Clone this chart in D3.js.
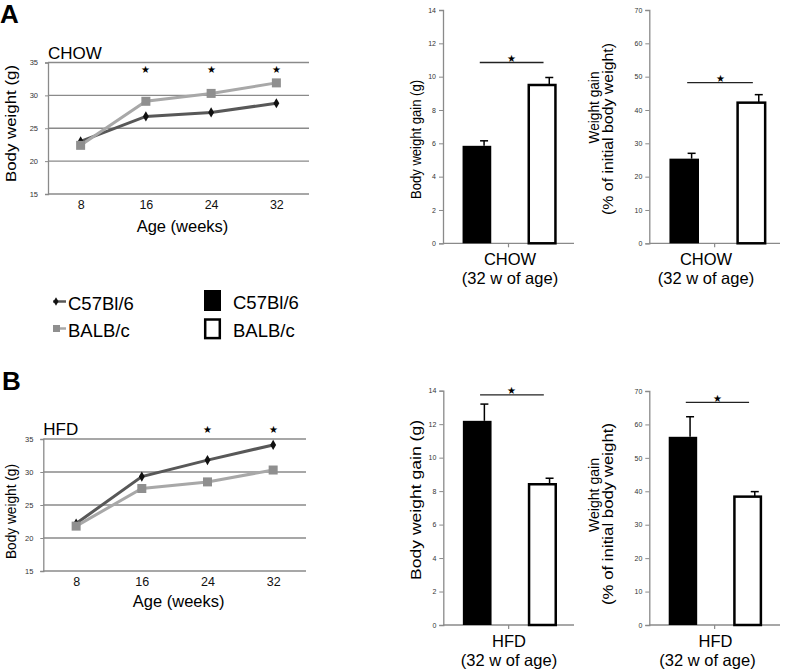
<!DOCTYPE html>
<html><head><meta charset="utf-8">
<script src="https://cdn.jsdelivr.net/npm/d3@7"></script>
<style>body{margin:0;background:#fff} svg{display:block} text{font-family:"Liberation Sans",Arial,sans-serif}</style>
</head><body><svg id="c" width="785" height="670"></svg>
<script>
// ---------- data ----------
const weeks = ["8", "16", "24", "32"];
const chowC57 = [23.0, 26.8, 27.4, 28.8];
const chowBALB = [22.4, 29.1, 30.3, 31.9];
const hfdC57 = [22.2, 29.3, 31.8, 34.1];
const hfdBALB = [21.8, 27.5, 28.5, 30.3];
const chowSigWeeks = ["16", "24", "32"];
const hfdSigWeeks = ["24", "32"];
const lineYTicks = [15, 20, 25, 30, 35];

const strains = ["C57Bl/6", "BALB/c"];
const gainChow = [5.85, 9.5];
const gainChowErr = [0.3, 0.45];
const pctChow = [25.4, 42.2];
const pctChowErr = [1.6, 2.4];
const gainHfd = [12.2, 8.41];
const gainHfdErr = [1.0, 0.36];
const pctHfd = [56.3, 38.4];
const pctHfdErr = [6.0, 1.5];
const gainTicks = [0, 2, 4, 6, 8, 10, 12, 14];
const pctTicks = [0, 10, 20, 30, 40, 50, 60, 70];
const sigGainChow = 10.85, sigPctChow = 48.2, sigGainHfd = 13.75, sigPctHfd = 66.6;

const svg = d3.select("#c");
const AX = "#8a8a8a";

// panel letters
svg.append("text").attr("x", 0).attr("y", 23).attr("font-size", 26).attr("font-weight", "bold").text("A");
svg.append("text").attr("x", 2).attr("y", 390).attr("font-size", 26).attr("font-weight", "bold").text("B");

function lineChart(o) {
  const g = svg.append("g");
  const x = d3.scalePoint().domain(weeks).range([o.x0, o.x1]).padding(0.5);
  const y = d3.scaleLinear().domain([15, 35]).range([o.yBot, o.yTop]);
  g.selectAll("line.grid").data(lineYTicks).join("line")
    .attr("x1", o.x0).attr("x2", o.x1).attr("y1", d => y(d)).attr("y2", d => y(d))
    .attr("stroke", AX).attr("stroke-width", 1.3);
  const ya = g.append("g").attr("transform", `translate(${o.x0},0)`)
    .call(d3.axisLeft(y).tickValues(lineYTicks).tickSize(3).tickPadding(7));
  ya.select(".domain").attr("stroke", AX).attr("stroke-width", 1.3);
  ya.selectAll(".tick line").attr("stroke", AX);
  ya.selectAll("text").attr("font-size", 7.5).attr("fill", "#333").attr("font-family", "Liberation Sans, Arial");
  const xa = g.append("g").attr("transform", `translate(0,${o.yBot})`)
    .call(d3.axisBottom(x).tickSize(0).tickPadding(6.5));
  xa.select(".domain").remove();
  xa.selectAll("text").attr("font-size", 12.5).attr("fill", "#111").attr("font-family", "Liberation Sans, Arial");
  g.append("text").attr("x", (o.x0 + o.x1) / 2 + 4).attr("y", o.yBot + o.ageOff).attr("text-anchor", "middle")
    .attr("font-size", 16.5).text("Age (weeks)");
  g.append("text").attr("transform", `translate(15.5,${o.ylabY}) rotate(-90)`).attr("text-anchor", "middle")
    .attr("font-size", 15.5).attr("textLength", o.ylabLen).attr("lengthAdjust", "spacingAndGlyphs").text("Body weight (g)");
  g.append("text").attr("x", o.x0).attr("y", o.titleY).attr("font-size", 17).text(o.title);
  const line = d3.line().x((d, i) => x(weeks[i])).y(d => y(d));
  g.append("path").datum(o.c57).attr("d", line).attr("fill", "none").attr("stroke", "#585858").attr("stroke-width", 3);
  g.selectAll("path.dm").data(o.c57).join("path")
    .attr("transform", (d, i) => `translate(${x(weeks[i])},${y(d)})`)
    .attr("d", d3.symbol(d3.symbolDiamond, 30)).attr("fill", "#111");
  g.append("path").datum(o.balb).attr("d", line).attr("fill", "none").attr("stroke", "#a8a8a8").attr("stroke-width", 3);
  g.selectAll("rect.sq").data(o.balb).join("rect")
    .attr("x", (d, i) => x(weeks[i]) - 4.5).attr("y", d => y(d) - 4.5)
    .attr("width", 9).attr("height", 9).attr("fill", "#8f8f8f");
  g.selectAll("text.star").data(o.sig).join("text")
    .attr("x", d => x(d)).attr("y", o.starY).attr("text-anchor", "middle")
    .attr("font-family", "DejaVu Sans").attr("font-size", 10).text("\u2605");
}

lineChart({x0: 48, x1: 309, yTop: 62.5, yBot: 194, c57: chowC57, balb: chowBALB, sig: chowSigWeeks,
  title: "CHOW", titleY: 58.5, ylabY: 123.5, ylabLen: 117, starY: 73, ageOff: 38});
lineChart({x0: 43.3, x1: 306, yTop: 439, yBot: 571, c57: hfdC57, balb: hfdBALB, sig: hfdSigWeeks,
  title: "HFD", titleY: 435, ylabY: 511.5, ylabLen: 95, starY: 433, ageOff: 36});

function barChart(o) {
  const g = svg.append("g");
  const x = d3.scaleBand().domain(strains).range([o.x0, o.x0 + o.w]).paddingInner(0.56).paddingOuter(0.3);
  const y = d3.scaleLinear().domain([0, o.max]).range([o.yBot, o.yTop]);
  const ya = g.append("g").attr("transform", `translate(${o.x0},0)`)
    .call(d3.axisLeft(y).tickValues(o.ticks).tickSize(4).tickPadding(3));
  ya.select(".domain").attr("stroke", AX).attr("stroke-width", 1.3);
  ya.selectAll(".tick line").attr("stroke", AX);
  ya.selectAll("text").attr("font-size", 7).attr("fill", "#333").attr("font-family", "Liberation Sans, Arial");
  g.append("line").attr("x1", o.x0).attr("x2", o.axEnd).attr("y1", o.yBot).attr("y2", o.yBot)
    .attr("stroke", AX).attr("stroke-width", 1.3);
  g.append("line").attr("x1", (o.x0 + o.axEnd) / 2).attr("x2", (o.x0 + o.axEnd) / 2)
    .attr("y1", o.yBot).attr("y2", o.yBot + 4).attr("stroke", AX).attr("stroke-width", 1.2);
  const bw = x.bandwidth();
  g.selectAll("rect.bar").data(o.vals).join("rect")
    .attr("x", (d, i) => x(strains[i]) + (i ? 1 : 0)).attr("y", d => y(d))
    .attr("width", (d, i) => bw - (i ? 2 : 0)).attr("height", d => o.yBot - y(d))
    .attr("fill", (d, i) => i ? "#fff" : "#000")
    .attr("stroke", "#000").attr("stroke-width", (d, i) => i ? 2.5 : 0);
  o.vals.forEach((v, i) => {
    const ex = x(strains[i]) + bw * 0.75;
    g.append("line").attr("x1", ex).attr("x2", ex).attr("y1", y(v)).attr("y2", y(v + o.errs[i]))
      .attr("stroke", "#000").attr("stroke-width", 1.5);
    g.append("line").attr("x1", ex - 4).attr("x2", ex + 4).attr("y1", y(v + o.errs[i])).attr("y2", y(v + o.errs[i]))
      .attr("stroke", "#000").attr("stroke-width", 1.5);
  });
  const sx1 = x(strains[0]) + bw * 0.6, sx2 = x(strains[1]) + bw * 0.55;
  g.append("line").attr("x1", sx1).attr("x2", sx2).attr("y1", y(o.sig)).attr("y2", y(o.sig))
    .attr("stroke", "#222").attr("stroke-width", 1.3);
  g.append("text").attr("x", (sx1 + sx2) / 2).attr("y", y(o.sig) - 0.5).attr("text-anchor", "middle")
    .attr("font-family", "DejaVu Sans").attr("font-size", 9.5).text("\u2605");
  g.append("text").attr("x", o.lab1X).attr("y", o.yBot + 22).attr("text-anchor", "middle").attr("font-size", 16.5).text(o.cat);
  g.append("text").attr("x", o.lab2X).attr("y", o.yBot + 40.5).attr("text-anchor", "middle").attr("font-size", 16.5).text("(32 w of age)");
  o.ylab.forEach(l => {
    g.append("text").attr("transform", `translate(${l.x},${l.y}) rotate(-90)`).attr("text-anchor", "middle")
      .attr("font-size", l.fs).attr("textLength", l.len).attr("lengthAdjust", "spacingAndGlyphs").text(l.t);
  });
}

barChart({x0: 443, w: 133, axEnd: 574, yTop: 10, yBot: 243.3, max: 14, ticks: gainTicks, vals: gainChow, errs: gainChowErr,
  sig: sigGainChow, cat: "CHOW", lab1X: 510, lab2X: 510,
  ylab: [{t: "Body weight gain (g)", x: 421, y: 139.5, len: 119, fs: 15}]});
barChart({x0: 649.3, w: 137, axEnd: 780, yTop: 10, yBot: 243.3, max: 70, ticks: pctTicks, vals: pctChow, errs: pctChowErr,
  sig: sigPctChow, cat: "CHOW", lab1X: 706, lab2X: 706,
  ylab: [{t: "Weight gain", x: 598.5, y: 107.5, len: 72, fs: 15},
         {t: "(% of initial body weight)", x: 612.5, y: 129, len: 172, fs: 15}]});
barChart({x0: 443.3, w: 133, axEnd: 574, yTop: 390.7, yBot: 625, max: 14, ticks: gainTicks, vals: gainHfd, errs: gainHfdErr,
  sig: sigGainHfd, cat: "HFD", lab1X: 509, lab2X: 509,
  ylab: [{t: "Body weight gain (g)", x: 421, y: 500, len: 160, fs: 15}]});
barChart({x0: 649.3, w: 132, axEnd: 780, yTop: 391, yBot: 625, max: 70, ticks: pctTicks, vals: pctHfd, errs: pctHfdErr,
  sig: sigPctHfd, cat: "HFD", lab1X: 715.5, lab2X: 707.5,
  ylab: [{t: "Weight gain", x: 598.5, y: 495, len: 74, fs: 15},
         {t: "(% of initial body weight)", x: 612.5, y: 514, len: 182, fs: 15}]});

// legends
const lg = svg.append("g");
const lineLegend = [{y: 301.5, name: strains[0]}, {y: 328.5, name: strains[1]}];
lg.append("line").attr("x1", 53).attr("x2", 66).attr("y1", lineLegend[0].y).attr("y2", lineLegend[0].y).attr("stroke", "#585858").attr("stroke-width", 2.5);
lg.append("path").attr("transform", `translate(56,${lineLegend[0].y})`).attr("d", d3.symbol(d3.symbolDiamond, 22)).attr("fill", "#111");
lg.append("line").attr("x1", 53).attr("x2", 66).attr("y1", lineLegend[1].y).attr("y2", lineLegend[1].y).attr("stroke", "#a8a8a8").attr("stroke-width", 2.5);
lg.append("rect").attr("x", 53).attr("y", lineLegend[1].y - 3.5).attr("width", 7).attr("height", 7).attr("fill", "#8f8f8f");
lineLegend.forEach((d, i) => {
  lg.append("text").attr("x", 68).attr("y", i ? 336.5 : 310).attr("font-size", 18.5).text(d.name);
});
lg.append("rect").attr("x", 204).attr("y", 290).attr("width", 17).attr("height", 21).attr("fill", "#000");
lg.append("rect").attr("x", 205.2).attr("y", 319.5).attr("width", 14.6).attr("height", 18.6).attr("fill", "#fff").attr("stroke", "#000").attr("stroke-width", 2.5);
strains.forEach((s, i) => {
  lg.append("text").attr("x", 233).attr("y", i ? 336.5 : 308.5).attr("font-size", 18.5).text(s);
});
</script></body></html>
